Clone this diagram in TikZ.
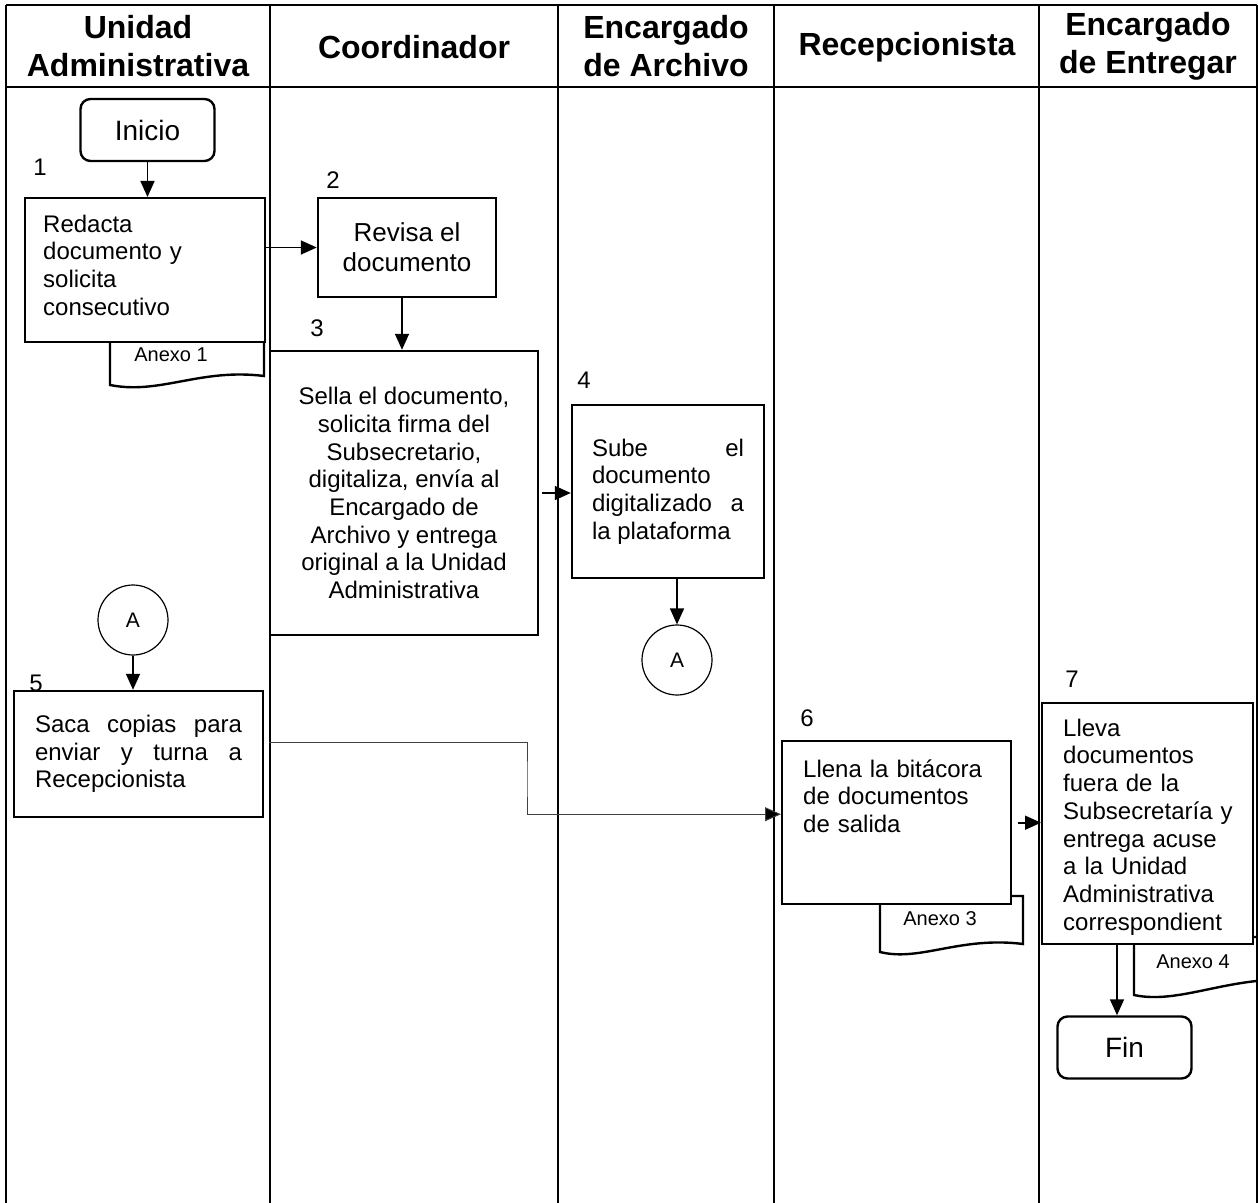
\documentclass[tikz,border=0pt]{standalone}
\usepackage{fontspec}
\setmainfont{Liberation Sans}
\usetikzlibrary{positioning, arrows.meta}
\hyphenpenalty=10000
\tolerance=9999
\newcommand{\fs}[2]{\fontsize{#1}{#2}\selectfont}
\newcommand{\headfont}{\fs{16}{19}\bfseries}

\begin{document}
\begin{tikzpicture}[x=0.5pt, y=-0.5pt, node distance=6mm,
    lane/.style={line width=1pt},
    head/.style={font=\headfont, align=center},
    stepbox/.style={draw, line width=1.2pt, fill=white, font=\fs{12}{13.85}, inner ysep=4pt},
    endbox/.style={draw, line width=1.2pt, rounded corners=5pt, fill=white, font=\fs{14}{16}, minimum width=67pt, minimum height=31pt},
    num/.style={font=\fs{12}{14}, inner sep=0pt},
    anexo/.style={line width=1.2pt},
    anexotxt/.style={font=\fs{10}{12}, inner sep=0pt},
    link/.style={draw, circle, line width=0.6pt, minimum size=35pt, inner sep=0pt, font=\fs{10.5}{12}},
    flow/.style={line width=0.8pt, -{Triangle[length=8pt, width=7pt]}}]
  \useasboundingbox (0,0) rectangle (1258,1203);

  % carriles
  \foreach \x in {6,270,558,774,1039,1257}
    \draw[lane] (\x,5) -- (\x,1203);
  \draw[lane] (6,5) -- (1257,5);
  \draw[lane] (6,87) -- (1257,87);

  \node[head] (hUnidad) at (138,46) {Unidad\\Administrativa};
  \node[head] (hCoord) at (414,47) {Coordinador};
  \node[head] (hArchivo) at (666,46) {Encargado\\de Archivo};
  \node[head] (hRecep) at (907,47) {Recepcionista};
  \node[head] (hEntrega) at (1148,46) {Encargado\\de Entregar};

  % anexos
  \draw[anexo] (110,335) -- (110,385) .. controls (160,395) and (200,368) .. (264,376) -- (264,335);
  \draw[anexo] (880,896) -- (880,952) .. controls (920,962) and (960,936) .. (1023,944) -- (1023,896) -- cycle;
  \draw[anexo] (1134,937) -- (1134,995) .. controls (1180,1005) and (1230,975) .. (1300,980) -- (1300,937) -- cycle;

  % pasos
  \node[endbox] (inicio) at (147.5,130) {Inicio};
  \node[stepbox, anchor=north west, align=left, text width=102pt, inner xsep=9pt, text height=13pt, text depth=51pt] (b1) at (24,197) {Redacta\\documento y\\solicita\\consecutivo};
  \node[stepbox, font=\fs{13}{15}, align=center, minimum width=89pt, minimum height=49.5pt] (b2) at (407,247.5) {Revisa el\\documento};
  \node[stepbox, align=center, minimum width=134pt, minimum height=142pt] (b3) at (404,493) {Sella el documento,\\solicita firma del\\Subsecretario,\\digitaliza, envía al\\Encargado de\\Archivo y entrega\\original a la Unidad\\Administrativa};
  \node[stepbox, align=justify, text width=76pt, inner xsep=10pt, minimum height=86.5pt] (b4) at (668,491.5) {Sube el documento digitalizado a la plataforma};
  \node[stepbox, align=justify, text width=103.5pt, inner xsep=10.5pt, minimum height=63pt] (b5) at (138.5,754) {Saca copias para enviar y turna a Recepcionista};
  \node[stepbox, anchor=north west, align=left, text width=93.5pt, inner xsep=10.5pt, text height=14pt, text depth=59.5pt] (b6) at (781,740) {Llena la bitácora\\de documentos\\de salida};
  \node[stepbox, anchor=north west, align=left, text width=84.5pt, inner xsep=10.5pt, text height=12.5pt, text depth=100pt] (b7) at (1041,702) {Lleva\\documentos\\fuera de la\\Subsecretaría~y\\entrega acuse\\a la Unidad\\Administrativa\\correspondient};
  \node[endbox] (fin) at (1124.5,1047.5) {Fin};

  \node[link] (aOut) at (677,660) {A};
  \node[link] (aIn) at (133,620) {A};

  \node[num] (n1) at (40,167) {1};
  \node[num] (n2) at (333,180) {2};
  \node[num] (n3) at (317,328) {3};
  \node[num] (n4) at (584,380) {4};
  \node[num] (n5) at (36,683) {5};
  \node[num] (n6) at (807,718) {6};
  \node[num] (n7) at (1072,679) {7};

  \node[anexotxt] (ax1) at (171,355) {Anexo 1};
  \node[anexotxt] (ax3) at (940,919) {Anexo 3};
  \node[anexotxt] (ax4) at (1193,962) {Anexo 4};

  % flechas
  \coordinate (b2out) at ([xshift=-2.5pt]b2.south);
  \coordinate (finIn) at ([xshift=-3.75pt]fin.north);
  \coordinate (bend) at (527,780);
  \draw[flow] (inicio.south) -- (inicio.south |- b1.north);
  \draw[flow] (b1.east |- b2.west) -- (b2.west);
  \draw[flow] (b2out) -- (b2out |- b3.north);
  \draw[flow, shorten <=1.5pt] (b3.east) -- (b3.east -| b4.west);
  \draw[flow] (aOut.north |- b4.south) -- (aOut.north);
  \draw[flow] (aIn.south) -- (aIn.south |- b5.north);
  \draw[line width=0.5pt, black!75, -{Triangle[length=8pt, width=7pt, fill=black]}] ([xshift=2.5pt, yshift=6pt]b5.east) -| (bend) |- ([yshift=4.25pt]b6.west);
  \draw[flow, shorten <=3pt] (b6.east) -- (b6.east -| b7.west);
  \draw[flow] (finIn |- b7.south) -- (finIn);
\end{tikzpicture}
\end{document}
